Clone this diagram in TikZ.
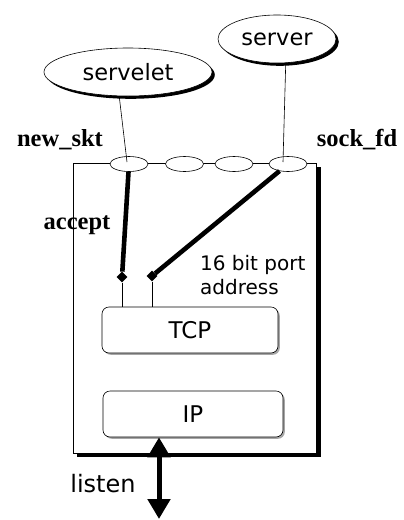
\documentclass[tikz,border=0pt]{standalone}
\usepackage{fontspec}
\setmainfont{Liberation Serif}
\newfontfamily\comic{DejaVu Sans}
\usetikzlibrary{shapes.geometric,arrows.meta,shadows}
\tikzset{
  proc/.style={ellipse, draw, fill=white, line width=0.6pt, inner sep=0pt,
    font=\comic\fontsize{22.5}{27}\selectfont,
    general shadow={fill=black, shadow xshift=2.8pt, shadow yshift=-2.8pt}},
  sock/.style={ellipse, draw, fill=white, line width=0.6pt, inner sep=0pt,
    minimum width=38pt, minimum height=15pt},
  layer/.style={rectangle, rounded corners=7pt, draw, fill=white, line width=0.6pt,
    minimum width=178pt, minimum height=46pt, inner sep=0pt,
    font=\comic\fontsize{23}{27}\selectfont,
    general shadow={fill=gray!70, shadow xshift=1.8pt, shadow yshift=-1.8pt}},
  blab/.style={font=\bfseries\fontsize{24.5}{28}\selectfont, inner sep=0pt},
  clab/.style={font=\comic\fontsize{20}{24}\selectfont, inner sep=0pt, align=left},
  pin/.style={diamond, fill=black, inner sep=0pt, minimum size=11pt},
  thickline/.style={line width=4.6pt},
  thinline/.style={line width=0.6pt}
}
\begin{document}
\begin{tikzpicture}[x=1pt,y=-1pt]
\useasboundingbox (0,0) rectangle (404,520);
% main box with shadow
\fill (76.5,166.5) rectangle (320.5,456.5);
\draw[fill=white, line width=0.6pt] (73,163) rectangle (316,453);
% socket ellipses
\node[sock] (s1) at (129,164) {};
\node[sock] (s2) at (184.5,164) {};
\node[sock] (s3) at (234,164) {};
\node[sock] (s4) at (288,164) {};
% processes
\node[proc, minimum width=168pt, minimum height=48pt] (servelet) at (128,72) {servelet};
\node[proc, minimum width=118pt, minimum height=48pt] (server) at (277,39) {server};
\coordinate (c1) at (127,162);
\coordinate (c4) at (283,162);
\draw[thinline] (servelet.250) -- (c1);
\draw[thinline] (server.290) -- (c4);
% labels
\node[blab] (lnew) at (60,140) {new\_skt};
\node[blab] (lsock) at (357,140) {sock\_fd};
\node[blab] (lacc) at (77,225) {accept};
\node[clab, anchor=west] (lport) at (200,275) {16 bit port\\address};
% layers
\node[layer, minimum width=176pt] (tcp) at (190,330) {TCP};
\node[layer, minimum width=180pt] (ip) at (193,414) {IP};
% pins
\node[pin] (d1) at (122,277) {};
\node[pin] (d2) at (152,276) {};
\draw[thickline] (s1) -- (d1);
\draw[thickline] (s4) -- (d2);
\draw[thinline] (d1) -- (d1 |- tcp.north);
\draw[thinline] (d2) -- (d2 |- tcp.north);
% listen arrow
\coordinate (lb) at (159,519);
\draw[line width=5pt, {Triangle[width=22pt,length=20pt]}-{Triangle[width=22pt,length=20pt]}] (lb |- ip.south) -- (lb);
\node[font=\comic\fontsize{24}{28}\selectfont, inner sep=0pt] (llisten) at (103,484) {listen};
\end{tikzpicture}
\end{document}
